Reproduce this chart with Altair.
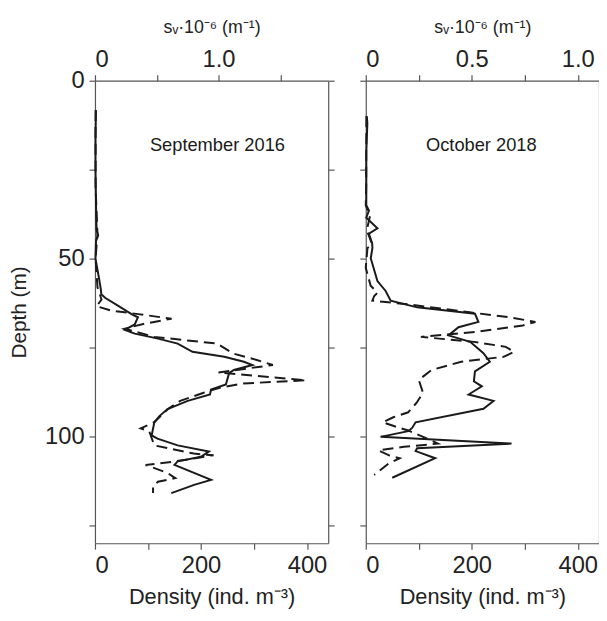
import altair as alt
import pandas as pd

# ---------------- September 2016 (left panel) ----------------
sep_den_depth = [8.3, 15, 25, 35, 42, 43.5, 45, 50, 55.4, 58.6, 60, 61, 63.3, 65.6, 66.5, 68.5, 70,
                 71.1, 72.5, 73.9, 76.2, 77.6, 79, 79.9, 81.3, 82.2, 85.4, 86.8, 88.2, 90, 92.3, 94.2,
                 96, 99.7, 100.6, 102.5, 104.2, 105.7, 107, 108, 112.2, 113.6, 115.9]
sep_density = [2, 1, 1, 2, 3, 6, 2, 1, 7.5, 11, 12, 19, 44, 69, 81, 75, 56,
               75, 119, 156, 184, 244, 281, 297, 262, 253, 247, 219, 217, 175, 137, 122,
               112, 107, 118, 156, 215, 200, 156, 150, 219, 187, 144]

sep_sv_depth = [8.3, 30, 43, 50, 58, 61.5, 63.4, 64.6, 65.6, 66.9, 68.3, 69.7, 72, 73.9, 76.7, 78.5,
                79.9, 82, 84.2, 85.1, 86.3, 87.7, 90, 92.3, 96, 97.7, 98.6, 102.5, 104.8, 105.3,
                107.1, 108, 110.3, 111.7, 112.7, 114, 115.9]
sep_sv = [0.005, 0.005, 0.02, 0.005, 0.02, 0.053, 0.013, 0.13, 0.35, 0.62, 0.40, 0.24, 0.48, 0.99,
          1.12, 1.31, 1.44, 1.0, 1.71, 1.20, 1.01, 0.88, 0.69, 0.59, 0.48, 0.37, 0.44, 0.48, 0.80,
          0.96, 0.63, 0.41, 0.59, 0.65, 0.51, 0.47, 0.47]

# ---------------- October 2018 (right panel) ----------------
oct_den_depth = [10, 12, 20, 30, 35, 36.5, 38.5, 41.5, 43, 45.7, 47, 49.9, 56.3, 59.1, 61.8, 63.7,
                 65.5, 67.8, 69.3, 71.6, 73.4, 76.6, 79, 81.7, 84.5, 85.9, 88.2, 90, 92.2, 96,
                 97.6, 98.5, 100.1, 102, 103.3, 104.1, 106.1, 111.6]
oct_density = [2, 3, 1, 1, 1, 6, 1, 22, 6, 12, 12.6, 9.4, 22, 37.5, 47, 97,
               206, 212.5, 175, 156, 197, 222, 234, 206, 204, 219, 194, 241, 222, 94,
               87.5, 80, 28, 275, 97, 94, 131, 50]

oct_sv_depth = [10, 30, 35, 38, 42, 46, 47, 52.6, 57.6, 59.6, 60.5, 61.8, 63, 65.1, 66.5, 67.8,
                68.8, 70.6, 72, 73.4, 74.8, 76.2, 77.6, 79, 81.3, 84.1, 87.7, 90.5, 93.2, 94.6,
                96, 97.4, 98.3, 100.6, 102, 102.9, 103.9, 105.3, 106.1, 107.5, 110.8]
oct_sv = [0.003, 0.002, 0.0, 0.02, 0.005, 0.03, 0.008, 0.0, 0.023, 0.055, 0.04, 0.031, 0.22, 0.49,
          0.68, 0.80, 0.74, 0.52, 0.26, 0.51, 0.66, 0.70, 0.65, 0.45, 0.31, 0.25, 0.27, 0.24,
          0.20, 0.13, 0.08, 0.15, 0.20, 0.29, 0.34, 0.18, 0.06, 0.11, 0.16, 0.11, 0.04]

depth_ticks = [0, 25, 50, 75, 100, 125]
density_ticks = [0, 100, 200, 300, 400]
FONT = "Liberation Sans"
INK = "#1a1a1a"


def make_panel(den_depth, den, sv_depth, sv, sv_max, sv_ticks, sv_expr, label, label_x, first):
    dfd = pd.DataFrame({"depth": den_depth, "density": den, "i": list(range(len(den)))})
    dfs = pd.DataFrame({"depth": sv_depth, "sv": sv, "i": list(range(len(sv)))})
    dft = pd.DataFrame({"depth": [18], "density": [label_x], "label": [label]})

    yscale = alt.Scale(domain=[0, 130], reverse=True, nice=False, zero=False)
    if first:
        left_axis = alt.Axis(orient="left", values=depth_ticks,
                             labelExpr="datum.value % 50 === 0 ? datum.label : ''",
                             title="Depth (m)", titlePadding=15)
        right_axis = alt.Axis(orient="right", values=depth_ticks, labels=False, title=None)
    else:
        left_axis = alt.Axis(orient="left", values=depth_ticks, labels=False, title=None)
        right_axis = alt.Axis(orient="right", values=depth_ticks, labels=False, ticks=False,
                              title=None)

    x_enc = alt.X("density:Q", scale=alt.Scale(domain=[0, 440], nice=False),
                  axis=alt.Axis(orient="bottom", values=density_ticks,
                                labelExpr="datum.value % 200 === 0 ? datum.label : ''",
                                title="Density (ind. m⁻³)", titlePadding=9, titleFontSize=22))
    y_enc = alt.Y("depth:Q", scale=yscale, axis=left_axis)

    solid = alt.Chart(dfd).mark_line(color=INK, strokeWidth=2).encode(
        x=x_enc, y=y_enc, order="i:Q")
    text = alt.Chart(dft).mark_text(font=FONT, fontSize=18.5, color=INK).encode(
        x=x_enc, y=y_enc, text="label:N")

    dashed = alt.Chart(dfs).mark_line(color=INK, strokeWidth=2, strokeDash=[11, 6]).encode(
        x=alt.X("sv:Q", scale=alt.Scale(domain=[0, sv_max], nice=False),
                axis=alt.Axis(orient="top", values=sv_ticks, labelExpr=sv_expr,
                              title="sᵥ·10⁻⁶ (m⁻¹)", titleFontSize=18, titlePadding=12,
                              labelPadding=3)),
        y=alt.Y("depth:Q", scale=yscale, axis=right_axis),
        order="i:Q")

    return (alt.layer(alt.layer(solid, text), dashed)
            .resolve_scale(x="independent")
            .resolve_axis(y="independent")
            .properties(width=236, height=468))


left = make_panel(sep_den_depth, sep_density, sep_sv_depth, sep_sv, 1.888,
                  [0, 0.5, 1.0, 1.5],
                  "datum.value === 0 ? '0' : (datum.value === 1 ? '1.0' : '')",
                  "September 2016", 231, True)
right = make_panel(oct_den_depth, oct_density, oct_sv_depth, oct_sv, 1.10,
                   [0, 0.25, 0.5, 0.75, 1.0],
                   "datum.value === 0 ? '0' : (datum.value === 0.5 ? '0.5' : (datum.value === 1 ? '1.0' : ''))",
                   "October 2018", 218, False)

chart = (alt.hconcat(left, right, spacing=24)
         .properties(padding={"left": 0, "top": 7, "right": 0, "bottom": 0},
                     background="white")
         .configure_view(strokeOpacity=0)
         .configure_axis(grid=False, domainColor="#555555", tickColor="#555555", tickSize=6,
                         domainWidth=1.2, tickWidth=1.2,
                         labelFont=FONT, labelFontSize=24, labelColor="#222222", labelPadding=5,
                         titleFont=FONT, titleFontSize=21, titleFontWeight="normal",
                         titleColor="#222222"))

chart.save("out.html", embed_options={"renderer": "svg", "actions": False})
